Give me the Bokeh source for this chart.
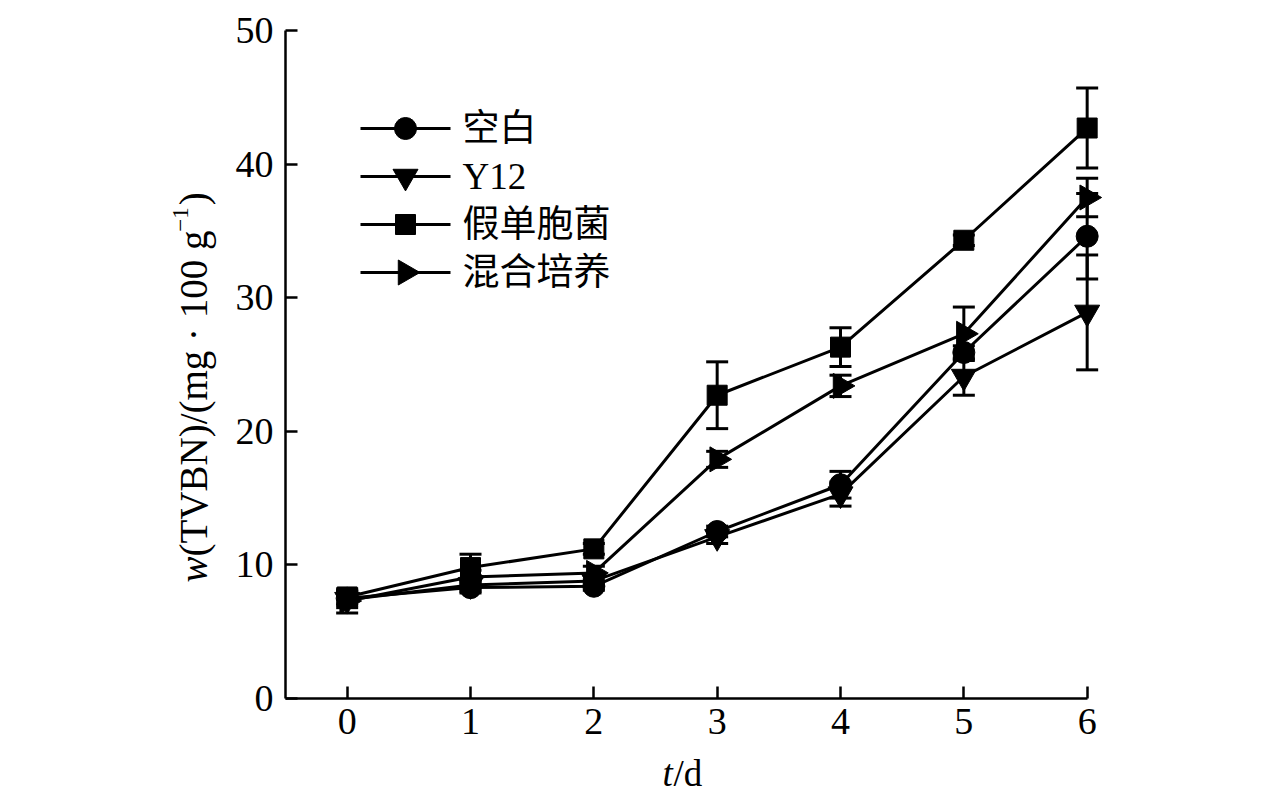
import numpy as np
from bokeh.plotting import figure
from bokeh.models import Range1d, Whisker, TeeHead, ColumnDataSource, Label
from bokeh.core.properties import value
from bokeh.embed import file_html
from bokeh.resources import INLINE

days = [0, 1, 2, 3, 4, 5, 6]
y_ticks = [0, 10, 20, 30, 40, 50]
names = ["空白", "Y12", "假单胞菌", "混合培养"]

blank = [7.5, 8.3, 8.4, 12.5, 16.0, 25.9, 34.6]
blank_err = [0.5, 0.4, 0.3, 0.4, 1.0, 0.5, 3.2]
y12 = [7.4, 8.5, 8.8, 12.1, 15.3, 24.1, 28.9]
y12_err = [0.6, 0.5, 0.4, 0.5, 0.9, 1.4, 4.3]
pseudo = [7.6, 9.8, 11.2, 22.7, 26.3, 34.3, 42.7]
pseudo_err = [0.5, 1.0, 0.4, 2.5, 1.45, 0.4, 3.0]
mixed = [7.3, 9.1, 9.4, 17.9, 23.4, 27.3, 37.5]
mixed_err = [0.9, 0.5, 0.5, 0.6, 0.8, 2.0, 1.45]

values = [blank, y12, pseudo, mixed]
errors = [blank_err, y12_err, pseudo_err, mixed_err]
markers = ["circle", "inverted_triangle", "square", "triangle"]
angles = [0, 0, 0, -np.pi / 2]
sizes = [22, 25, 20, 25]

SERIF = "'Liberation Serif', 'Times New Roman', serif"
LEG_FONT = "'Liberation Serif', 'Noto Sans CJK SC', serif"

W, H = 1276, 795
AX_L, AX_B = 285, 698      # page pixel of x=-0.5 and y=0
XS = (1087 - 347) / 6.0    # pixels per day
YS = (698 - 30) / 50.0     # pixels per unit

def fx(px):
    return -0.5 + (px - AX_L) / XS

def fy(py):
    return (AX_B - py) / YS

p = figure(width=W, height=H, output_backend="svg", toolbar_location=None,
           x_range=Range1d(fx(0), fx(W)), y_range=Range1d(fy(H), fy(0)),
           min_border=0)
p.outline_line_color = None
p.grid.visible = False

for ax in (p.xaxis[0], p.yaxis[0]):
    ax.axis_line_width = 2.5
    ax.major_tick_line_width = 2.5
    ax.major_tick_in = 12
    ax.major_tick_out = 0
    ax.minor_tick_in = 0
    ax.minor_tick_out = 0
    ax.major_label_text_font = SERIF
    ax.major_label_text_font_size = "38px"
    ax.major_label_text_color = "black"
    ax.axis_line_color = "black"
    ax.major_tick_line_color = "black"
p.xaxis.ticker = days
p.yaxis.ticker = y_ticks
p.xaxis.bounds = (-0.5, 6)
p.yaxis.bounds = (0, 50)
p.xaxis.fixed_location = 0
p.yaxis.fixed_location = -0.5
p.xaxis.major_label_standoff = 10
p.yaxis.major_label_standoff = 12

for vals, errs, mk, ang, sz in zip(values, errors, markers, angles, sizes):
    up = [v + e for v, e in zip(vals, errs)]
    lo = [v - e for v, e in zip(vals, errs)]
    src = ColumnDataSource(dict(x=days, y=vals, upper=up, lower=lo))
    w = Whisker(base="x", upper="upper", lower="lower", source=src, dimension="height",
                line_width=3, line_color="black",
                upper_head=TeeHead(size=22, line_width=3, line_color="black"),
                lower_head=TeeHead(size=22, line_width=3, line_color="black"))
    p.add_layout(w)
    p.line("x", "y", source=src, line_width=3, line_color="black")
    p.scatter("x", "y", source=src, marker=mk, size=sz, angle=ang,
              fill_color="black", line_color="black")

# manual legend (so the right-pointing triangle is kept)
row_y = [128, 176, 224, 272]
for name, mk, ang, sz, ry in zip(names, markers, angles, sizes, row_y):
    p.segment(x0=[fx(360)], y0=[fy(ry)], x1=[fx(450)], y1=[fy(ry)],
              line_width=3, line_color="black")
    p.scatter(x=[fx(405)], y=[fy(ry)], marker=mk, size=sz, angle=ang,
              fill_color="black", line_color="black")
    p.text(x=[fx(462)], y=[fy(ry)], text=[name], text_baseline="middle",
           text_align="left", text_font=value(LEG_FONT), text_font_size="37px",
           text_color="black")

# y axis label composed of pieces (rotated)
fs = 39
sup_fs = 23
base_x = 193
ystart = 582
w_w = 0.667 * fs
main_txt = "(TVBN)/(mg · 100 g"
main_w = 8.277 * fs
sup_w = 1.064 * sup_fs
pieces = [
    ("w", ystart, base_x, fs, "italic"),
    (main_txt, ystart - w_w, base_x, fs, "normal"),
    ("−1", ystart - w_w - main_w - 2, base_x - 13, sup_fs, "normal"),
    (")", ystart - w_w - main_w - sup_w - 4, base_x, fs, "normal"),
]
for txt, py, pxb, size, style in pieces:
    p.add_layout(Label(x=fx(pxb), y=fy(py), text=txt, angle=np.pi / 2,
                       text_align="left", text_baseline="alphabetic",
                       text_font=SERIF, text_font_size=f"{size}px",
                       text_font_style=style, text_color="black"))

# x axis label t/d
p.add_layout(Label(x=fx(662), y=fy(773), text="t", text_align="left",
                   text_baseline="alphabetic", text_font=SERIF, text_font_size="37px",
                   text_font_style="italic", text_color="black"))
p.add_layout(Label(x=fx(673), y=fy(773), text="/d", text_align="left",
                   text_baseline="alphabetic", text_font=SERIF, text_font_size="37px",
                   text_color="black"))

open("out.html", "w").write(file_html(p, INLINE))
